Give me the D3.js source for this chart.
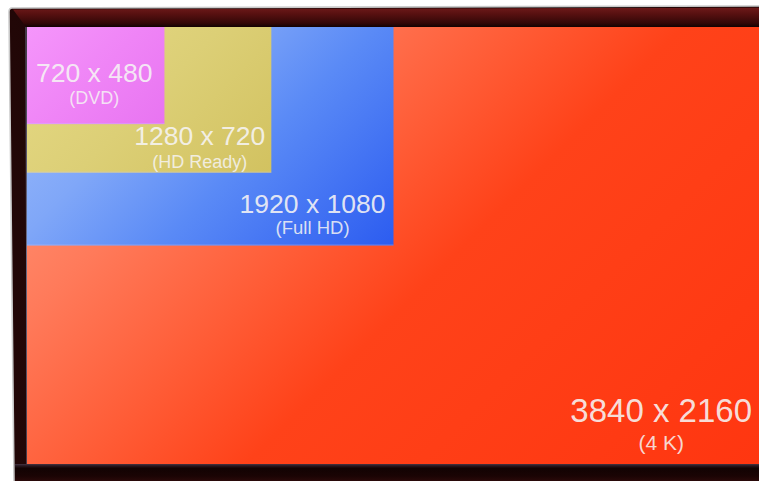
<!DOCTYPE html>
<html>
<head>
<meta charset="utf-8">
<script src="https://cdn.jsdelivr.net/npm/d3@7/dist/d3.min.js"></script>
<style>
  html, body { margin: 0; padding: 0; background: #ffffff; }
  svg { display: block; }
</style>
</head>
<body>
<script>
// ---- data ----
const resolutions = ["720 x 480", "1280 x 720", "1920 x 1080", "3840 x 2160"];
const names = ["(DVD)", "(HD Ready)", "(Full HD)", "(4 K)"];
const pixelWidths = [720, 1280, 1920, 3840];
const pixelHeights = [480, 720, 1080, 2160];

// ---- styles (not data) ----
const gradientStops = [
  [[0, "#f596fb"], [0.5, "#ef84f6"], [1, "#e874f1"]],
  [[0, "#e6da86"], [0.5, "#dccf76"], [1, "#d2c260"]],
  [[0, "#a2c0fb"], [0.35, "#80a7f8"], [0.6, "#5a8af6"], [1, "#2c5cf0"]],
  [[0, "#ffa084"], [0.25, "#ff7a5a"], [0.42, "#ff5c36"], [0.56, "#ff4219"], [1, "#ff3610"]]
];
const mainFont = [26.5, 26.5, 26.5, 33];
const subFont = [18, 18, 18.5, 21];
const mainPadRight = [12, 6, 8, 8];
const mainBaselineUp = [42, 28, 32.5, 42];
const subBaselineUp = [20.5, 5, 11.5, 14];

const W = 759, H = 481;
const svg = d3.select("body").append("svg").attr("width", W).attr("height", H);
svg.append("rect").attr("width", W).attr("height", H).attr("fill", "#ffffff");

const defs = svg.append("defs");

// scales: pixel space of the screen
const x = d3.scaleLinear().domain([0, 3840]).range([27, 760]);
const y = d3.scaleLinear().domain([0, 2160]).range([27, 464]);

// ---- TV frame ----
const frameTop = defs.append("linearGradient").attr("id", "frameTop")
  .attr("x1", 0).attr("y1", 0).attr("x2", 0).attr("y2", 1);
[[0, "#6e1a1a"], [0.35, "#561010"], [0.8, "#330707"], [1, "#120202"]]
  .forEach(s => frameTop.append("stop").attr("offset", s[0]).attr("stop-color", s[1]));
const frameBottom = defs.append("linearGradient").attr("id", "frameBottom")
  .attr("x1", 0).attr("y1", 0).attr("x2", 0).attr("y2", 1);
[[0, "#463644"], [0.1, "#2a1a22"], [0.25, "#120303"], [0.7, "#1a0404"], [1, "#2a0909"]]
  .forEach(s => frameBottom.append("stop").attr("offset", s[0]).attr("stop-color", s[1]));
const frameLeft = defs.append("linearGradient").attr("id", "frameLeft")
  .attr("x1", 0).attr("y1", 0).attr("x2", 1).attr("y2", 0);
[[0, "#220707"], [0.5, "#0f0202"], [1, "#080101"]]
  .forEach(s => frameLeft.append("stop").attr("offset", s[0]).attr("stop-color", s[1]));

// outer body (slightly slanted left edge)
svg.append("path")
  .attr("d", "M12,8 L759,6 L759,481 L14,481 L9,12 Q9,8 12,8 Z")
  .attr("fill", "url(#frameLeft)");
// light outer rim
svg.append("path")
  .attr("d", "M14,481 L9,12 Q9,8 12,8 L759,6")
  .attr("fill", "none").attr("stroke", "#c9c9c9").attr("stroke-width", 1.6);
// top band
svg.append("path")
  .attr("d", "M13,9.5 L759,7.5 L759,27 L26,27 Z")
  .attr("fill", "url(#frameTop)");
// bottom band
svg.append("rect").attr("x", 15).attr("y", 464).attr("width", W - 15).attr("height", H - 464)
  .attr("fill", "url(#frameBottom)");
// thin edge at the left of the screen
svg.append("line").attr("x1", 26).attr("x2", 27).attr("y1", 27).attr("y2", 464)
  .attr("stroke", "#6a6f8a").attr("stroke-width", 1);

// ---- resolution boxes ----
const boxes = resolutions.map((r, i) => ({
  label: r, name: names[i], w: pixelWidths[i], h: pixelHeights[i], i
}));

boxes.forEach(d => {
  const x0 = x(0), y0 = y(0);
  const pw = x(d.w) - x0, ph = y(d.h) - y0;
  const L = (pw + ph) / 2;
  const g = defs.append("linearGradient").attr("id", "g" + d.i)
    .attr("gradientUnits", "userSpaceOnUse")
    .attr("x1", x0).attr("y1", y0).attr("x2", x0 + L).attr("y2", y0 + L);
  gradientStops[d.i].forEach(s => g.append("stop").attr("offset", s[0]).attr("stop-color", s[1]));
});

const order = boxes.slice().sort((a, b) => b.w - a.w);

svg.append("g").selectAll("rect").data(order).join("rect")
  .attr("x", x(0)).attr("y", y(0))
  .attr("width", d => x(d.w) - x(0))
  .attr("height", d => y(d.h) - y(0))
  .attr("fill", d => `url(#g${d.i})`);

// faint light edge along the bottom of the smaller boxes
svg.append("g").selectAll("line").data(order.filter(d => d.w < 3840)).join("line")
  .attr("x1", x(0)).attr("x2", d => x(d.w))
  .attr("y1", d => y(d.h) - 0.5).attr("y2", d => y(d.h) - 0.5)
  .attr("stroke", "#c8c8ff").attr("stroke-opacity", 0.35).attr("stroke-width", 1);

// labels
const labels = svg.append("g")
  .attr("font-family", "'Liberation Sans', Arial, Helvetica, sans-serif")
  .attr("fill", "#f6f4f4");

order.forEach(d => {
  const right = x(d.w), bottom = y(d.h);
  const t = labels.append("text")
    .attr("font-size", mainFont[d.i])
    .attr("text-anchor", "middle")
    .attr("fill-opacity", 0.9)
    .text(d.label);
  const tw = t.node().getComputedTextLength();
  const cx = right - mainPadRight[d.i] - tw / 2;
  t.attr("x", cx).attr("y", bottom - mainBaselineUp[d.i]);
  labels.append("text")
    .attr("font-size", subFont[d.i])
    .attr("text-anchor", "middle")
    .attr("fill-opacity", 0.85)
    .attr("x", cx).attr("y", bottom - subBaselineUp[d.i])
    .text(d.name);
});
</script>
</body>
</html>
